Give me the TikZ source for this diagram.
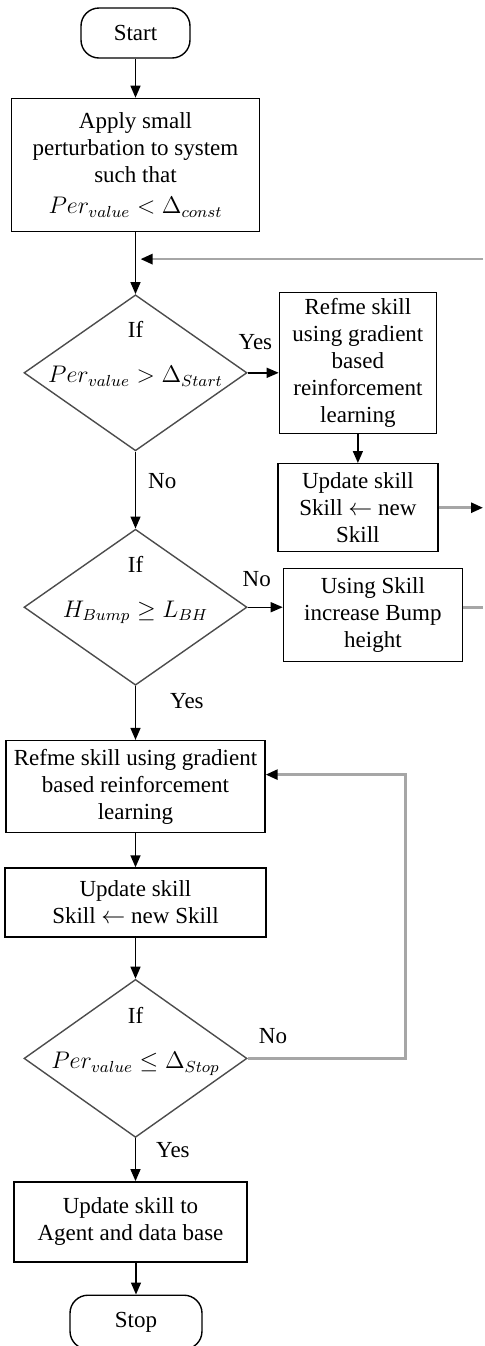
\documentclass[tikz,border=0pt]{standalone}
\usepackage{amsmath,amssymb}
\usepackage{fontspec}
\setmainfont{Liberation Serif}
\usetikzlibrary{arrows.meta,positioning,shapes.geometric}

\newcommand{\ifcond}[1]{\makebox[0pt]{\raisebox{-5pt}[0pt][0pt]{\begin{tabular}[b]{@{}c@{}}If\\[9pt]#1\end{tabular}}}}

\begin{document}
\begin{tikzpicture}[
  font=\fontsize{11.5pt}{13.5pt}\selectfont,
  box/.style={draw,line width=0.7pt,align=center,inner sep=1.5pt},
  term/.style={box,rounded corners=9pt},
  dec/.style={diamond,draw=black!70,line width=0.7pt,inner sep=0pt,minimum width=111.5pt,minimum height=78pt},
  arr/.style={-{Triangle[length=6pt,width=5pt]},line width=0.7pt},
  fb/.style={gray!70,line width=1.3pt},
  fbarr/.style={fb,-{Triangle[length=6pt,width=5pt,black]}},
  lbl/.style={inner sep=1pt,text=black}
]
\useasboundingbox (0,0) rectangle (242pt,-673pt);
\node[term,minimum width=54.5pt,minimum height=25pt] (start) at (67.75pt,-16.5pt) {Start};
\node[box,below=19.5pt of start,minimum width=124pt,minimum height=66.5pt] (apply) {Apply small\\perturbation to system\\such that\\[2pt]$Per_{value} < \Delta_{const}$};
\node[dec,below=31pt of apply] (if1) {\ifcond{$Per_{value} > \Delta_{Start}$}};
\node[box,right=15.5pt of if1,yshift=5pt,minimum width=78.5pt,minimum height=70.5pt] (ref1) {Refme skill\\using gradient\\based\\reinforcement\\learning};
\node[box,below=14.5pt of ref1,minimum width=80pt,minimum height=44pt] (upd1) {Update skill\\Skill $\leftarrow$ new\\Skill};
\node[dec,below=38.5pt of if1] (if2) {\ifcond{$H_{Bump} \geq L_{BH}$}};
\node[box,right=17.5pt of if2,yshift=-4pt,minimum width=89.5pt,minimum height=46.5pt] (bump) {Using Skill\\increase Bump\\height};
\node[box,below=27pt of if2,minimum width=129.5pt,minimum height=46pt] (ref2) {Refme skill using gradient\\based reinforcement\\learning};
\node[box,below=17pt of ref2,minimum width=130.5pt,minimum height=34.5pt] (upd2) {Update skill\\Skill $\leftarrow$ new Skill};
\node[dec,below=20.5pt of upd2,minimum height=79pt] (if3) {\ifcond{$Per_{value} \leq \Delta_{Stop}$}};
\node[box,below=21.5pt of if3,xshift=-2.5pt,minimum width=116.5pt,minimum height=40pt] (fin) {Update skill to\\Agent and data base};
\node[term,below=16pt of fin,xshift=2.75pt,minimum width=66pt,minimum height=27pt] (stop) {Stop};

\coordinate (rt) at (241.5pt,0);
\coordinate (join) at ([xshift=2.5pt,yshift=-13.5pt]apply.south);

\draw[arr] (start) -- (apply);
\draw[arr] (apply) -- (if1);
\draw[arr] (if1.east) -- node[lbl,pos=0.25,above=10pt]{Yes} (if1.east -| ref1.west);
\draw[arr] (ref1) -- (upd1);
\draw[arr] (if1) -- node[lbl,pos=0.38,right=5pt]{No} (if2);
\draw[arr] (if2.east) -- node[lbl,pos=0.26,above=9pt]{No} (if2.east -| bump.west);
\draw[arr] (if2) -- node[lbl,pos=0.28,right=16pt]{Yes} (ref2);
\draw[arr] (ref2) -- (upd2);
\draw[arr] (upd2) -- (if3);
\draw[arr] (if3.south) -- node[lbl,pos=0.28,right=9pt]{Yes} (if3.south |- fin.north);
\draw[arr] (stop.north |- fin.south) -- (stop);

% loops back
\draw[fbarr] (rt |- join) -- (join);
\draw[fbarr] (upd1.east) -- (upd1.east -| rt);
\draw[fb] (if2.east -| bump.east) -- (if2.east -| rt);
\draw[fbarr] (if3.east) -- node[lbl,pos=0.16,above=5.5pt]{No} ++(79pt,0) |- ([yshift=6pt]ref2.east);
\end{tikzpicture}
\end{document}
